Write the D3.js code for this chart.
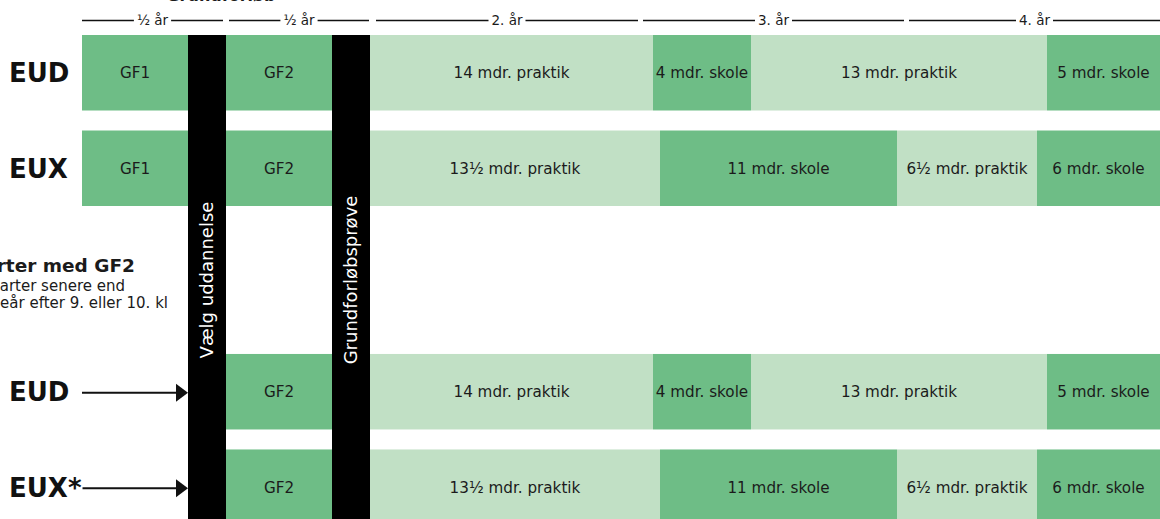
<!DOCTYPE html>
<html>
<head>
<meta charset="utf-8">
<script src="https://cdn.jsdelivr.net/npm/d3@7"></script>
<style>
  body { margin: 0; background: #fff; }
  svg { display: block; font-family: "DejaVu Sans", sans-serif; }
</style>
</head>
<body>
<script>
// row labels and their vertical slots (slot 2 is left free for the note)
const rowLabels = ["EUD", "EUX", "EUD", "EUX*"];
const rowSlots = [0, 1, 3.34, 4.34];
const rowHasGF1 = [true, true, false, false];
const rowHasArrow = [false, false, true, true];

// fixed first columns: GF1, gate, GF2, gate (relative widths)
const startLabels = ["GF1", null, "GF2", null];
const startSpans = [10.6, 3.8, 10.6, 3.8];
const gateLabels = ["Vælg uddannelse", "Grundforløbsprøve"];

// main course per type
const eudSegments = ["14 mdr. praktik", "4 mdr. skole", "13 mdr. praktik", "5 mdr. skole"];
const eudSpans = [28.3, 9.8, 29.6, 11.3];
const euxSegments = ["13½ mdr. praktik", "11 mdr. skole", "6½ mdr. praktik", "6 mdr. skole"];
const euxSpans = [29.0, 23.7, 14.0, 12.3];

// header time brackets
const headerLabels = ["½ år", "½ år", "2. år", "3. år", "4. år"];
const headerStarts = [0, 14.7, 29.4, 56.1, 82.7];
const headerEnds = [14.1, 28.7, 55.6, 82.2, 107.8];

const noteLines = ["Starter med GF2", "Hvis man starter senere end", "skoleår efter 9. eller 10. kl"];

const width = 1160, height = 519;
const dark = "#6ebd86", light = "#c1e0c5", ink = "#1b1b1b";

const svg = d3.select("body").append("svg")
    .attr("width", width)
    .attr("height", height);

const x = d3.scaleLinear().domain([0, 107.8]).range([82, 1160]);
const y = d3.scaleLinear().domain([0, 1]).range([35, 130.5]);
const rowH = 75.5;

// cumulative starts of the fixed columns
const startPos = d3.cumsum([0].concat(startSpans)).slice(0, startSpans.length);
const mainStart = d3.sum(startSpans);

// Title (mostly cut off at the top)
svg.append("text")
    .attr("x", x((startPos[0] + startPos[3] + startSpans[3]) / 2 - 0.5))
    .attr("y", 0.5)
    .attr("text-anchor", "middle")
    .attr("font-weight", "bold")
    .attr("font-size", 16)
    .attr("fill", ink)
    .text("Grundforløb");

// header brackets
headerLabels.forEach((lab, i) => {
    const x0 = x(headerStarts[i]), x1 = x(headerEnds[i]);
    const cx = (x0 + x1) / 2;
    const t = svg.append("text")
        .attr("x", cx).attr("y", 25)
        .attr("text-anchor", "middle")
        .attr("font-size", 13.5)
        .attr("fill", ink)
        .text(lab);
    const w = t.node().getComputedTextLength();
    svg.append("line")
        .attr("x1", x0).attr("x2", cx - w / 2 - 3)
        .attr("y1", 20.5).attr("y2", 20.5)
        .attr("stroke", "#111").attr("stroke-width", 1.3);
    svg.append("line")
        .attr("x1", cx + w / 2 + 3).attr("x2", x1)
        .attr("y1", 20.5).attr("y2", 20.5)
        .attr("stroke", "#111").attr("stroke-width", 1.3);
});

// rows
rowLabels.forEach((lab, r) => {
    const top = y(rowSlots[r]);
    const cy = top + rowH / 2;
    const isEux = lab.startsWith("EUX");
    const segs = isEux ? euxSegments : eudSegments;
    const spans = isEux ? euxSpans : eudSpans;

    const cells = [];
    startLabels.forEach((s, i) => {
        if (s === null) return;
        if (s === "GF1" && !rowHasGF1[r]) return;
        cells.push({ label: s, x0: startPos[i], x1: startPos[i] + startSpans[i], fill: dark });
    });
    let pos = mainStart;
    segs.forEach((s, i) => {
        cells.push({ label: s, x0: pos, x1: pos + spans[i], fill: s.includes("skole") ? dark : light });
        pos += spans[i];
    });

    const g = svg.append("g");
    g.selectAll("rect").data(cells).join("rect")
        .attr("x", d => x(d.x0))
        .attr("width", d => x(d.x1) - x(d.x0))
        .attr("y", top)
        .attr("height", rowH)
        .attr("fill", d => d.fill);
    g.selectAll("text").data(cells).join("text")
        .attr("x", d => (x(d.x0) + x(d.x1)) / 2)
        .attr("y", cy)
        .attr("dy", "0.35em")
        .attr("text-anchor", "middle")
        .attr("font-size", 15.2)
        .attr("fill", ink)
        .text(d => d.label);

    const lt = svg.append("text")
        .attr("x", 9)
        .attr("y", cy)
        .attr("dy", "0.36em")
        .attr("font-weight", "bold")
        .attr("font-size", 26)
        .attr("fill", "#111")
        .text(lab);

    if (rowHasArrow[r]) {
        const ax1 = x(startPos[1]);
        const ay = cy + 1;
        const lx0 = Math.max(82, 9 + lt.node().getComputedTextLength() + 1);
        svg.append("line")
            .attr("x1", lx0).attr("x2", ax1 - 8)
            .attr("y1", ay).attr("y2", ay)
            .attr("stroke", "#111").attr("stroke-width", 2);
        svg.append("path")
            .attr("d", `M${ax1 - 12},${ay - 9}L${ax1},${ay}L${ax1 - 12},${ay + 9}Z`)
            .attr("fill", "#111");
    }
});

// black gates with vertical labels
gateLabels.forEach((lab, i) => {
    const gi = i === 0 ? 1 : 3;
    const gx0 = x(startPos[gi]), gx1 = x(startPos[gi] + startSpans[gi]);
    svg.append("rect")
        .attr("x", gx0).attr("width", gx1 - gx0)
        .attr("y", y(0)).attr("height", height - y(0))
        .attr("fill", "#000");
    const cx = (gx0 + gx1) / 2, cyy = 280;
    svg.append("text")
        .attr("transform", `translate(${cx},${cyy}) rotate(-90)`)
        .attr("text-anchor", "middle")
        .attr("dy", "0.35em")
        .attr("font-size", 18)
        .attr("fill", "#fff")
        .text(lab);
});

// note on the left (cut by the edge)
const noteRight = [135, 125, 168];
const noteY = [272, 291, 308];
noteLines.forEach((t, i) => {
    svg.append("text")
        .attr("x", noteRight[i])
        .attr("y", noteY[i])
        .attr("text-anchor", "end")
        .attr("font-weight", i === 0 ? "bold" : "normal")
        .attr("font-size", i === 0 ? 18.5 : 15)
        .attr("fill", ink)
        .text(t);
});
</script>
</body>
</html>
